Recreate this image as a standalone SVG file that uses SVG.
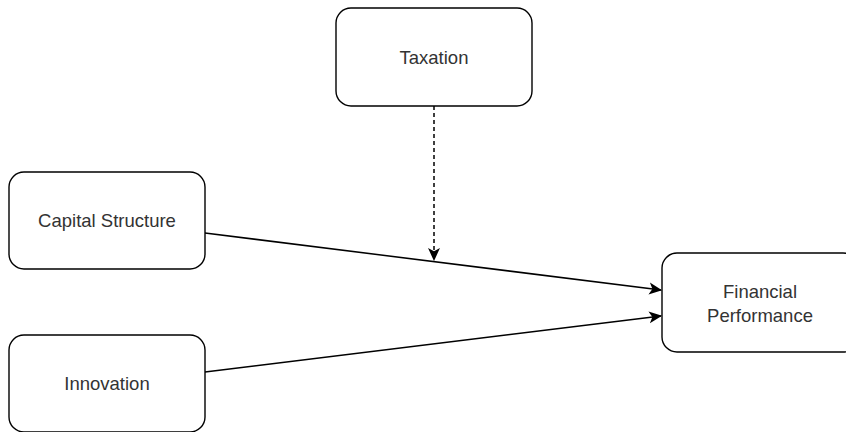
<svg xmlns="http://www.w3.org/2000/svg" width="846" height="432" viewBox="0 0 846 432">
  <style>
    .box { fill: #ffffff; stroke: #000000; stroke-width: 1.4; }
    .lbl { font-family: "Liberation Sans", Arial, sans-serif; font-size: 18.5px; fill: #333333; text-anchor: middle; }
    .edge { fill: none; stroke: #000000; stroke-width: 1.5; }
    .dash { stroke-dasharray: 4 3; }
  </style>
  <defs>
    <marker id="arr" viewBox="0 0 12 12" refX="11" refY="6" markerWidth="13" markerHeight="13" markerUnits="userSpaceOnUse" orient="auto">
      <path d="M0,0.5 L12,6 L0,11.5 L3,6 Z" fill="#000000"/>
    </marker>
  </defs>
  <rect width="846" height="432" fill="#ffffff"/>
  <g id="connectors">
    <line class="edge dash" x1="434" y1="106" x2="434" y2="260" marker-end="url(#arr)"/>
    <line class="edge" x1="205" y1="233" x2="661" y2="290" marker-end="url(#arr)"/>
    <line class="edge" x1="205" y1="372" x2="661" y2="316" marker-end="url(#arr)"/>
  </g>
  <g id="taxation">
    <rect class="box" x="336" y="8" width="196" height="98" rx="15" ry="15"/>
    <text class="lbl" x="434" y="64">Taxation</text>
  </g>
  <g id="capital-structure">
    <rect class="box" x="9" y="172" width="196" height="97" rx="15" ry="15"/>
    <text class="lbl" x="107" y="227">Capital Structure</text>
  </g>
  <g id="innovation">
    <rect class="box" x="9" y="335" width="196" height="97" rx="15" ry="15"/>
    <text class="lbl" x="107" y="390">Innovation</text>
  </g>
  <g id="financial-performance">
    <rect class="box" x="662" y="253" width="196" height="99" rx="15" ry="15"/>
    <text class="lbl" x="760" y="298">Financial</text>
    <text class="lbl" x="760" y="322">Performance</text>
  </g>
</svg>
